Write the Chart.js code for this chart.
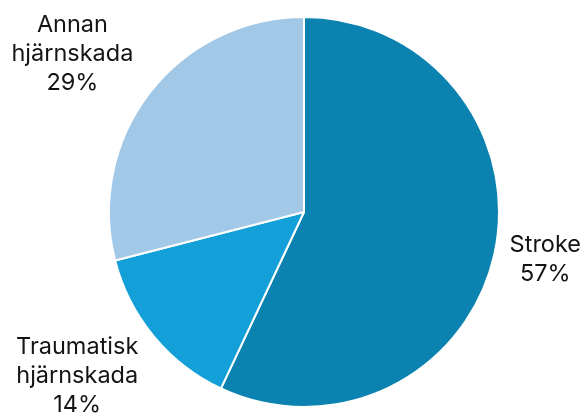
<!DOCTYPE html>
<html>
<head>
<meta charset="utf-8">
<script src="https://cdn.jsdelivr.net/npm/chart.js@4.4.1/dist/chart.umd.min.js"></script>
<style>
  html, body { margin: 0; padding: 0; background: #ffffff; }
  #wrap { width: 585px; height: 413px; }
</style>
</head>
<body>
<div id="wrap"><canvas id="c" width="585" height="413"></canvas></div>
<script>
// ---- Data ----
const categories = ['Stroke', 'Traumatisk hjärnskada', 'Annan hjärnskada'];
const labelLines = [['Stroke'], ['Traumatisk', 'hjärnskada'], ['Annan', 'hjärnskada']];
const values = [57, 14, 29];
const colors = ['#0b82af', '#139fd8', '#a2c8e7'];

const FONT_SIZE = 23.5;
const LINE_H = 29;
const FONT = FONT_SIZE + 'px Inter, "Liberation Sans", sans-serif';
const GAP = 10.5;
const FLATTEN = 0.88;

const outsideLabels = {
  id: 'outsideLabels',
  afterDraw(chart) {
    const ctx = chart.ctx;
    const meta = chart.getDatasetMeta(0);
    const W = chart.width, H = chart.height;
    ctx.save();
    ctx.font = FONT;
    ctx.fillStyle = '#141414';
    ctx.textAlign = 'center';
    ctx.textBaseline = 'middle';
    meta.data.forEach((arc, i) => {
      const p = arc.getProps(['x', 'y', 'startAngle', 'endAngle', 'outerRadius'], true);
      const mid = (p.startAngle + p.endAngle) / 2;
      const lines = labelLines[i].concat([values[i] + '%']);
      const bw = Math.max(...lines.map(l => ctx.measureText(l).width));
      const bh = lines.length * LINE_H;
      let dx = Math.cos(mid), dy = Math.sin(mid) * FLATTEN;
      const len = Math.hypot(dx, dy);
      dx /= len; dy /= len;
      const d = p.outerRadius + GAP + Math.abs(dx) * bw / 2 + Math.abs(dy) * bh / 2;
      let cx = p.x + dx * d;
      let cy = p.y + dy * d;
      cx = Math.min(Math.max(cx, bw / 2 + 4), W - bw / 2 - 4);
      cy = Math.min(Math.max(cy, bh / 2 - 6), H - bh / 2 + 6);
      lines.forEach((l, k) => {
        ctx.fillText(l, cx, cy + (k - (lines.length - 1) / 2) * LINE_H);
      });
    });
    ctx.restore();
  }
};

new Chart(document.getElementById('c'), {
  type: 'pie',
  data: {
    labels: categories,
    datasets: [{
      data: values,
      backgroundColor: colors,
      borderColor: '#ffffff',
      borderWidth: 2
    }]
  },
  options: {
    responsive: false,
    animation: false,
    layout: { padding: { top: 16, bottom: 5, left: 107, right: 84 } },
    plugins: {
      legend: { display: false },
      tooltip: { enabled: false }
    }
  },
  plugins: [outsideLabels]
});
</script>
</body>
</html>
